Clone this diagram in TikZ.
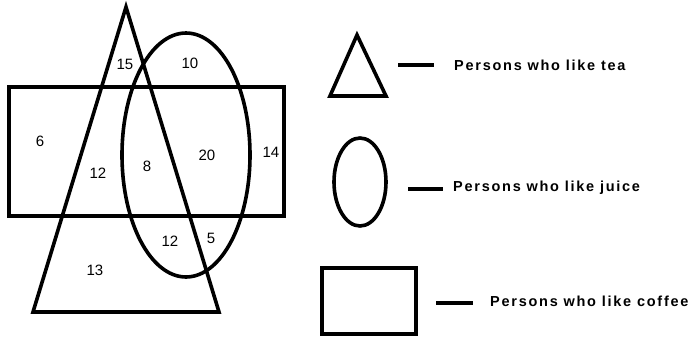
\documentclass[tikz,border=0pt]{standalone}
\usepackage{fontspec}
\setmainfont{Liberation Sans}
\newfontfamily\legfont[LetterSpace=12]{Liberation Sans}
\begin{document}
\begin{tikzpicture}[x=1pt,y=-1pt,
  shape line/.style={line width=3.6pt, line join=miter},
  num/.style={font=\fontsize{15}{15}\selectfont, inner sep=0pt},
  leg/.style={font=\legfont\bfseries\fontsize{14.5}{15}\selectfont, inner sep=0pt, anchor=west},
  dashline/.style={line width=3.6pt}]
\useasboundingbox (0,0) rectangle (689,341);
% main diagram
\draw[shape line] (9,87) rectangle (284,216);
\draw[shape line] (126,7) -- (33,312) -- (219,312) -- cycle;
\draw[shape line] (186,155) ellipse [x radius=64, y radius=122];
% numbers
\node[num] (n15) at (125,64) {15};
\node[num] (n10) at (190,63) {10};
\node[num] (n6) at (40,141) {6};
\node[num] (n12a) at (98,173) {12};
\node[num] (n8) at (147,166) {8};
\node[num] (n20) at (207,155) {20};
\node[num] (n14) at (271,152) {14};
\node[num] (n12b) at (170,241) {12};
\node[num] (n5) at (211,238) {5};
\node[num] (n13) at (95,270) {13};
% legend
\draw[shape line] (357,35) -- (330,96) -- (386,96) -- cycle;
\draw[shape line] (360,182) ellipse [x radius=26, y radius=44];
\draw[shape line] (322,268) rectangle (416,334);
\node[leg] (tea) at (454,65) {Persons who like tea};
\node[leg] (juice) at (453,188) {Persons who like juice};
\node[leg] (coffee) at (490,301) {Persons who like coffee};
\coordinate (d1) at (398,65);
\coordinate (d2) at (408,189);
\coordinate (d3) at (436,303);
\draw[dashline] (d1) -- (434,65);
\draw[dashline] (d2) -- (443,189);
\draw[dashline] (d3) -- (473,303);
\end{tikzpicture}
\end{document}
